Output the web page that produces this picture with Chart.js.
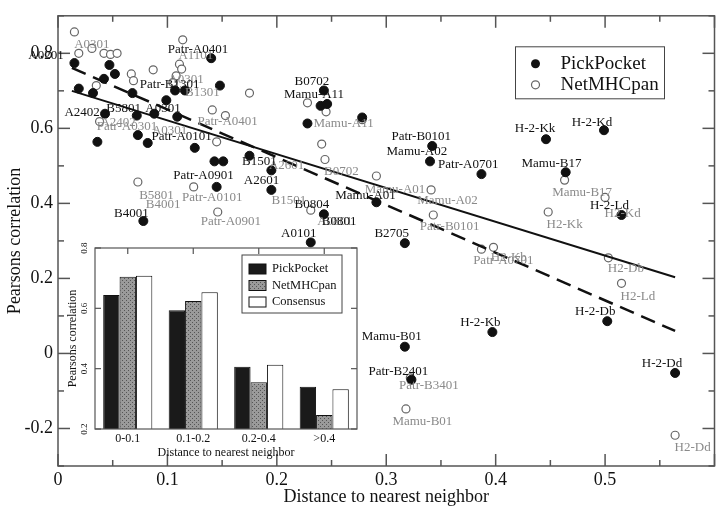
<!DOCTYPE html>
<html>
<head>
<meta charset="utf-8">
<script src="https://cdn.jsdelivr.net/npm/chart.js@4.4.1/dist/chart.umd.min.js"></script>
<style>
  html, body { margin: 0; padding: 0; background: #fff; }
  #wrap { position: relative; width: 720px; height: 511px; }
  #mainChart { position: absolute; left: 0; top: 0; }
  #insetChart { position: absolute; left: 62px; top: 240px; }
</style>
</head>
<body>
<div id="wrap">
  <canvas id="mainChart" width="720" height="511"></canvas>
  <canvas id="insetChart" width="300" height="222"></canvas>
</div>
<script>
// ---- main scatter data (distance to nearest neighbor vs Pearsons correlation)
const seriesNames = ['PickPocket', 'NetMHCpan'];

const pickX = [0.015, 0.047, 0.052, 0.042, 0.019, 0.032, 0.068, 0.099, 0.107, 0.116,
  0.140, 0.148, 0.043, 0.036, 0.072, 0.073, 0.082, 0.088, 0.109, 0.125,
  0.143, 0.151, 0.145, 0.175, 0.078, 0.195, 0.195, 0.243, 0.240, 0.246,
  0.228, 0.278, 0.342, 0.340, 0.387, 0.291, 0.243, 0.231, 0.317, 0.446,
  0.499, 0.464, 0.515, 0.502, 0.397, 0.564, 0.317, 0.323];
const pickY = [0.774, 0.769, 0.745, 0.732, 0.706, 0.694, 0.694, 0.675, 0.701, 0.701,
  0.787, 0.714, 0.639, 0.564, 0.634, 0.582, 0.561, 0.639, 0.631, 0.548,
  0.512, 0.512, 0.444, 0.527, 0.353, 0.488, 0.436, 0.701, 0.660, 0.665,
  0.613, 0.629, 0.553, 0.512, 0.478, 0.403, 0.371, 0.296, 0.294, 0.571,
  0.595, 0.483, 0.369, 0.086, 0.057, -0.052, 0.018, -0.070];

const netX = [0.015, 0.019, 0.031, 0.042, 0.048, 0.054, 0.035, 0.067, 0.069, 0.087,
  0.114, 0.111, 0.113, 0.108, 0.105, 0.141, 0.153, 0.145, 0.175, 0.073,
  0.124, 0.146, 0.228, 0.245, 0.278, 0.241, 0.244, 0.291, 0.341, 0.343,
  0.231, 0.387, 0.398, 0.448, 0.500, 0.463, 0.503, 0.515, 0.564, 0.322,
  0.318, 0.038];
const netY = [0.857, 0.800, 0.813, 0.800, 0.797, 0.800, 0.714, 0.745, 0.727, 0.756,
  0.836, 0.771, 0.758, 0.740, 0.722, 0.649, 0.634, 0.564, 0.694, 0.457,
  0.444, 0.377, 0.668, 0.644, 0.623, 0.558, 0.517, 0.473, 0.436, 0.369,
  0.382, 0.278, 0.283, 0.377, 0.416, 0.462, 0.255, 0.187, -0.218, -0.065,
  -0.148, 0.618];

// regression lines
const pickFitX = [0.0127, 0.564];
const pickFitY = [0.700, 0.203];
const netFitX = [0.0127, 0.564];
const netFitY = [0.761, 0.060];

// allele names written next to the points (positions in data units)
const pickLabels = ['A0201', 'Patr-A0401', 'Patr-B1301', 'A2402', 'B5801', 'A0301', 'Patr-A0101',
  'Patr-A0901', 'B4001', 'B1501', 'A2601', 'B0702', 'Mamu-A11', 'Patr-B0101', 'Mamu-A02',
  'Patr-A0701', 'Mamu-A01', 'B0804', 'B0801', 'A0101', 'B2705', 'H-2-Kk', 'H-2-Kd',
  'Mamu-B17', 'H-2-Ld', 'H-2-Db', 'H-2-Kb', 'H-2-Dd', 'Mamu-B01', 'Patr-B2401'];
const pickLabelX = [-0.011, 0.128, 0.102, 0.022, 0.060, 0.096, 0.113,
  0.133, 0.067, 0.184, 0.186, 0.232, 0.234, 0.332, 0.328,
  0.375, 0.281, 0.232, 0.257, 0.220, 0.305, 0.436, 0.488,
  0.451, 0.504, 0.491, 0.386, 0.552, 0.305, 0.311];
const pickLabelY = [0.795, 0.810, 0.717, 0.642, 0.652, 0.652, 0.577,
  0.473, 0.374, 0.512, 0.462, 0.725, 0.691, 0.579, 0.538,
  0.504, 0.421, 0.397, 0.351, 0.319, 0.319, 0.600, 0.616,
  0.506, 0.395, 0.112, 0.083, -0.026, 0.044, -0.047];

const netLabels = ['A0301', 'A1101', 'A0301', 'B1301', 'Patr-A0401', 'A2402', 'Patr-A0301',
  'A0301', 'B5801', 'B4001', 'Patr-A0101', 'Patr-A0901', 'A2601', 'B0702', 'B1501',
  'A0801', 'Mamu-A11', 'Mamu-A01', 'Mamu-A02', 'Patr-B0101', 'Patr-A0701', 'H2-Kb',
  'Mamu-B17', 'H2-Kk', 'H2-Kd', 'H2-Db', 'H2-Ld', 'H2-Dd', 'Patr-B3401', 'Mamu-B01'];
const netLabelX = [0.031, 0.126, 0.117, 0.132, 0.155, 0.055, 0.063,
  0.102, 0.090, 0.096, 0.141, 0.158, 0.209, 0.259, 0.211,
  0.253, 0.261, 0.308, 0.356, 0.358, 0.407, 0.412,
  0.479, 0.463, 0.516, 0.519, 0.530, 0.580, 0.339, 0.333];
const netLabelY = [0.823, 0.795, 0.730, 0.696, 0.618, 0.616, 0.605,
  0.595, 0.421, 0.397, 0.416, 0.351, 0.501, 0.486, 0.408,
  0.351, 0.613, 0.436, 0.408, 0.338, 0.247, 0.255,
  0.429, 0.343, 0.374, 0.226, 0.151, -0.252, -0.086, -0.182];

const xTickValues = [0, 0.1, 0.2, 0.3, 0.4, 0.5];
const yTickValues = [-0.2, 0, 0.2, 0.4, 0.6, 0.8];
const xTitle = 'Distance to nearest neighbor';
const yTitle = 'Pearsons correlation';

// ---- inset bar chart
const insetCategories = ['0-0.1', '0.1-0.2', '0.2-0.4', '>0.4'];
const insetSeries = ['PickPocket', 'NetMHCpan', 'Consensus'];
const insetPick = [0.644, 0.594, 0.406, 0.340];
const insetNet = [0.705, 0.624, 0.355, 0.246];
const insetCons = [0.708, 0.653, 0.413, 0.332];
const insetTickValues = [0.2, 0.4, 0.6, 0.8];

const FONT = "'Liberation Serif', 'DejaVu Serif', serif";
const FRAME = '#555';
const LABEL_GRAY = '#8a8a8a';

function toPoints(xs, ys) {
  return xs.map((x, i) => ({ x: x, y: ys[i] }));
}

function line(ctx, x1, y1, x2, y2) {
  ctx.beginPath();
  ctx.moveTo(x1, y1);
  ctx.lineTo(x2, y2);
  ctx.stroke();
}

// frame, inward ticks, point names and legend of the main plot
const mainDecor = {
  id: 'mainDecor',
  afterDraw(chart) {
    const ctx = chart.ctx;
    const ca = chart.chartArea;
    const xs = chart.scales.x, ys = chart.scales.y;
    ctx.save();
    ctx.strokeStyle = FRAME;
    ctx.lineWidth = 1.5;
    ctx.strokeRect(ca.left, ca.top, ca.right - ca.left, ca.bottom - ca.top);

    // x ticks every 0.05, major every 0.1
    for (let i = 0; i <= 12; i++) {
      const px = xs.getPixelForValue(i * 0.05);
      const len = i % 2 === 0 ? 12 : 6;
      line(ctx, px, ca.bottom, px, ca.bottom - len);
      line(ctx, px, ca.top, px, ca.top + len);
    }
    // y ticks every 0.1, major every 0.2
    for (let i = 0; i <= 12; i++) {
      const v = -0.3 + i * 0.1;
      const py = ys.getPixelForValue(v);
      const len = Math.abs(Math.round(v * 10)) % 2 === 0 ? 12 : 6;
      line(ctx, ca.left, py, ca.left + len, py);
      line(ctx, ca.right, py, ca.right - len, py);
    }

    // names
    ctx.font = '13px ' + FONT;
    ctx.textAlign = 'center';
    ctx.textBaseline = 'middle';
    ctx.fillStyle = LABEL_GRAY;
    netLabels.forEach((t, i) => {
      ctx.fillText(t, xs.getPixelForValue(netLabelX[i]), ys.getPixelForValue(netLabelY[i]));
    });
    ctx.fillStyle = '#111';
    pickLabels.forEach((t, i) => {
      ctx.fillText(t, xs.getPixelForValue(pickLabelX[i]), ys.getPixelForValue(pickLabelY[i]));
    });

    // legend box
    const lx = ca.right - 199, ly = ca.top + 31;
    ctx.fillStyle = '#fff';
    ctx.fillRect(lx, ly, 149, 52);
    ctx.strokeStyle = '#444';
    ctx.lineWidth = 1;
    ctx.strokeRect(lx, ly, 149, 52);
    ctx.font = '19px ' + FONT;
    ctx.textAlign = 'left';
    ctx.fillStyle = '#111';
    ctx.beginPath();
    ctx.arc(lx + 20, ly + 17, 4.5, 0, Math.PI * 2);
    ctx.fill();
    ctx.fillText(seriesNames[0], lx + 45, ly + 17);
    ctx.beginPath();
    ctx.arc(lx + 20, ly + 38, 4, 0, Math.PI * 2);
    ctx.fillStyle = '#fff';
    ctx.fill();
    ctx.strokeStyle = '#666';
    ctx.lineWidth = 1.2;
    ctx.stroke();
    ctx.fillStyle = '#111';
    ctx.fillText(seriesNames[1], lx + 45, ly + 38);
    ctx.restore();
  }
};

new Chart(document.getElementById('mainChart'), {
  type: 'scatter',
  data: {
    datasets: [
      {
        type: 'line', label: 'PickPocket fit', data: toPoints(pickFitX, pickFitY),
        borderColor: '#111', borderWidth: 2, pointRadius: 0, fill: false
      },
      {
        type: 'line', label: 'NetMHCpan fit', data: toPoints(netFitX, netFitY),
        borderColor: '#111', borderWidth: 2.5, borderDash: [15, 8], pointRadius: 0, fill: false
      },
      {
        label: seriesNames[0], data: toPoints(pickX, pickY),
        pointRadius: 4.5, backgroundColor: '#111', borderColor: '#111', borderWidth: 1
      },
      {
        label: seriesNames[1], data: toPoints(netX, netY),
        pointRadius: 4, backgroundColor: '#fff', borderColor: '#666', borderWidth: 1.2
      }
    ]
  },
  options: {
    responsive: false,
    animation: false,
    layout: { padding: { top: 4, right: 3, left: 0, bottom: 0 } },
    plugins: { legend: { display: false }, tooltip: { enabled: false } },
    scales: {
      x: {
        type: 'linear', min: 0, max: 0.6,
        afterBuildTicks: s => { s.ticks = xTickValues.map(v => ({ value: v })); },
        afterFit: s => { s.height = 45; },
        grid: { display: false, drawTicks: false },
        border: { display: false },
        ticks: { padding: 3, color: '#111', font: { family: FONT, size: 18 }, callback: v => String(v) },
        title: { display: true, text: xTitle, color: '#111', font: { family: FONT, size: 18 }, padding: { top: 0, bottom: 3 } }
      },
      y: {
        type: 'linear', min: -0.3, max: 0.9,
        afterBuildTicks: s => { s.ticks = yTickValues.map(v => ({ value: v })); },
        afterFit: s => { s.width = 58; },
        grid: { display: false, drawTicks: false },
        border: { display: false },
        ticks: { padding: 5, color: '#111', font: { family: FONT, size: 18 }, callback: v => String(v) },
        title: { display: true, text: yTitle, color: '#111', font: { family: FONT, size: 18 }, padding: { top: 4, bottom: 0 } }
      }
    }
  },
  plugins: [mainDecor]
});

// dotted gray fill for the NetMHCpan bars
function dotPattern() {
  const c = document.createElement('canvas');
  c.width = 4; c.height = 4;
  const g = c.getContext('2d');
  g.fillStyle = '#9a9a9a';
  g.fillRect(0, 0, 4, 4);
  g.fillStyle = '#555';
  g.fillRect(0, 0, 1, 1);
  g.fillRect(2, 2, 1, 1);
  return g.createPattern(c, 'repeat');
}

const insetDecor = {
  id: 'insetDecor',
  beforeDraw(chart) {
    const ca = chart.chartArea;
    const ctx = chart.ctx;
    ctx.save();
    ctx.fillStyle = '#fff';
    ctx.fillRect(ca.left, ca.top, ca.right - ca.left, ca.bottom - ca.top);
    ctx.restore();
  },
  afterDraw(chart) {
    const ctx = chart.ctx;
    const ca = chart.chartArea;
    const xs = chart.scales.x, ys = chart.scales.y;
    ctx.save();
    ctx.strokeStyle = FRAME;
    ctx.lineWidth = 1.2;
    ctx.strokeRect(ca.left, ca.top, ca.right - ca.left, ca.bottom - ca.top);
    insetCategories.forEach((c, i) => {
      const px = xs.getPixelForValue(i);
      line(ctx, px, ca.top, px, ca.top + 6);
    });
    insetTickValues.forEach(v => {
      const py = ys.getPixelForValue(v);
      line(ctx, ca.left, py, ca.left + 6, py);
      line(ctx, ca.right, py, ca.right - 6, py);
    });
    // rotated tick labels
    ctx.fillStyle = '#111';
    ctx.font = '9px ' + FONT;
    ctx.textAlign = 'center';
    ctx.textBaseline = 'middle';
    insetTickValues.forEach(v => {
      ctx.save();
      ctx.translate(ca.left - 10, ys.getPixelForValue(v));
      ctx.rotate(-Math.PI / 2);
      ctx.fillText(String(v), 0, 0);
      ctx.restore();
    });

    // legend
    const lx = ca.left + 147, ly = ca.top + 7;
    ctx.fillStyle = '#fff';
    ctx.fillRect(lx, ly, 100, 58);
    ctx.strokeStyle = '#444';
    ctx.lineWidth = 1;
    ctx.strokeRect(lx, ly, 100, 58);
    const fills = ['#1a1a1a', dotPattern(), '#fff'];
    ctx.font = '12.5px ' + FONT;
    ctx.textAlign = 'left';
    insetSeries.forEach((name, i) => {
      const ry = ly + 14 + i * 16.5;
      ctx.fillStyle = fills[i];
      ctx.fillRect(lx + 7, ry - 5, 17, 10);
      ctx.strokeStyle = '#111';
      ctx.strokeRect(lx + 7, ry - 5, 17, 10);
      ctx.fillStyle = '#111';
      ctx.fillText(name, lx + 30, ry);
    });
    ctx.restore();
  }
};

new Chart(document.getElementById('insetChart'), {
  type: 'bar',
  data: {
    labels: insetCategories,
    datasets: [
      { label: insetSeries[0], data: insetPick, backgroundColor: '#1a1a1a', borderColor: '#111', borderWidth: 1 },
      { label: insetSeries[1], data: insetNet, backgroundColor: dotPattern(), borderColor: '#111', borderWidth: 1 },
      { label: insetSeries[2], data: insetCons, backgroundColor: '#fff', borderColor: '#111', borderWidth: 1 }
    ]
  },
  options: {
    responsive: false,
    animation: false,
    layout: { padding: { top: 8, right: 5, left: 0, bottom: 0 } },
    datasets: { bar: { categoryPercentage: 0.75, barPercentage: 1.0 } },
    plugins: { legend: { display: false }, tooltip: { enabled: false } },
    scales: {
      x: {
        afterFit: s => { s.height = 33; },
        grid: { display: false, drawTicks: false },
        border: { display: false },
        ticks: { padding: 3, color: '#111', font: { family: FONT, size: 12 } },
        title: { display: true, text: xTitle, color: '#111', font: { family: FONT, size: 12 }, padding: { top: 0, bottom: 2 } }
      },
      y: {
        min: 0.2, max: 0.8,
        afterBuildTicks: s => { s.ticks = insetTickValues.map(v => ({ value: v })); },
        afterFit: s => { s.width = 33; },
        grid: { display: false, drawTicks: false },
        border: { display: false },
        ticks: { display: false },
        title: { display: true, text: yTitle, color: '#111', font: { family: FONT, size: 12 }, padding: { top: 4, bottom: 0 } }
      }
    }
  },
  plugins: [insetDecor]
});
</script>
</body>
</html>
